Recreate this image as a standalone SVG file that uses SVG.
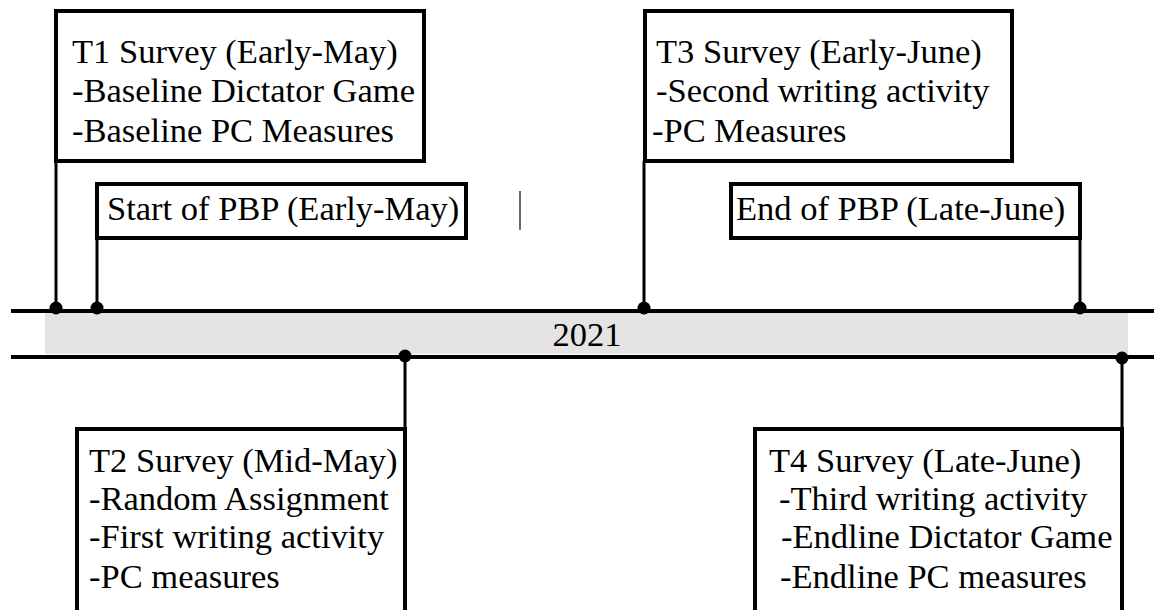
<svg xmlns="http://www.w3.org/2000/svg" width="1154" height="610" viewBox="0 0 1154 610">
<style>
.box{fill:#fff;stroke:#000;stroke-width:4}
.t{font-family:"Liberation Serif","Times New Roman",serif;font-size:34.5px;fill:#000}
.conn{stroke:#000;stroke-width:3;fill:none}
.axis{stroke:#000;stroke-width:4}
.dot{fill:#000}
</style>
<rect width="1154" height="610" fill="#fff"/>
<g id="timeline">
  <rect x="45" y="313" width="1083" height="41" fill="#e5e3e4"/>
  <line class="axis" x1="11" y1="311" x2="1154" y2="311"/>
  <line class="axis" x1="11" y1="357" x2="1154" y2="357"/>
  <text class="t" x="587" y="346" text-anchor="middle" font-size="32">2021</text>
</g>
<g id="connectors">
  <line class="conn" x1="56" y1="161" x2="56" y2="308"/>
  <line class="conn" x1="97" y1="238" x2="97" y2="308"/>
  <line class="conn" x1="644" y1="161" x2="644" y2="308"/>
  <line class="conn" x1="1080" y1="238" x2="1080" y2="308"/>
  <line class="conn" x1="405" y1="357" x2="405" y2="429"/>
  <line class="conn" x1="1122" y1="358" x2="1122" y2="429"/>
  <circle class="dot" cx="56" cy="308" r="6.5"/>
  <circle class="dot" cx="97" cy="308" r="6.5"/>
  <circle class="dot" cx="644" cy="308" r="6.5"/>
  <circle class="dot" cx="1080" cy="308" r="6.5"/>
  <circle class="dot" cx="405" cy="356" r="6.5"/>
  <circle class="dot" cx="1122" cy="358" r="6.5"/>
  <line x1="520" y1="191" x2="520" y2="230" stroke="#666" stroke-width="2"/>
</g>
<g id="t1">
  <rect class="box" x="56" y="11" width="368" height="150"/>
  <text class="t" x="72" y="63">T1 Survey (Early-May)</text>
  <text class="t" x="72" y="102">-Baseline Dictator Game</text>
  <text class="t" x="72" y="142">-Baseline PC Measures</text>
</g>
<g id="start-pbp">
  <rect class="box" x="97" y="184" width="369" height="54"/>
  <text class="t" x="107" y="220">Start of PBP (Early-May)</text>
</g>
<g id="t3">
  <rect class="box" x="645" y="11" width="367" height="150"/>
  <text class="t" x="656" y="63">T3 Survey (Early-June)</text>
  <text class="t" x="656" y="102">-Second writing activity</text>
  <text class="t" x="652" y="142">-PC Measures</text>
</g>
<g id="end-pbp">
  <rect class="box" x="731" y="184" width="349" height="54"/>
  <text class="t" x="736" y="220">End of PBP (Late-June)</text>
</g>
<g id="t2">
  <rect class="box" x="77" y="429" width="328" height="190"/>
  <text class="t" x="89" y="472">T2 Survey (Mid-May)</text>
  <text class="t" x="89" y="510">-Random Assignment</text>
  <text class="t" x="89" y="548">-First writing activity</text>
  <text class="t" x="89" y="588">-PC measures</text>
</g>
<g id="t4">
  <rect class="box" x="755" y="429" width="367" height="190"/>
  <text class="t" x="769" y="472">T4 Survey (Late-June)</text>
  <text class="t" x="779" y="510">-Third writing activity</text>
  <text class="t" x="781" y="548">-Endline Dictator Game</text>
  <text class="t" x="780" y="588">-Endline PC measures</text>
</g>
</svg>
